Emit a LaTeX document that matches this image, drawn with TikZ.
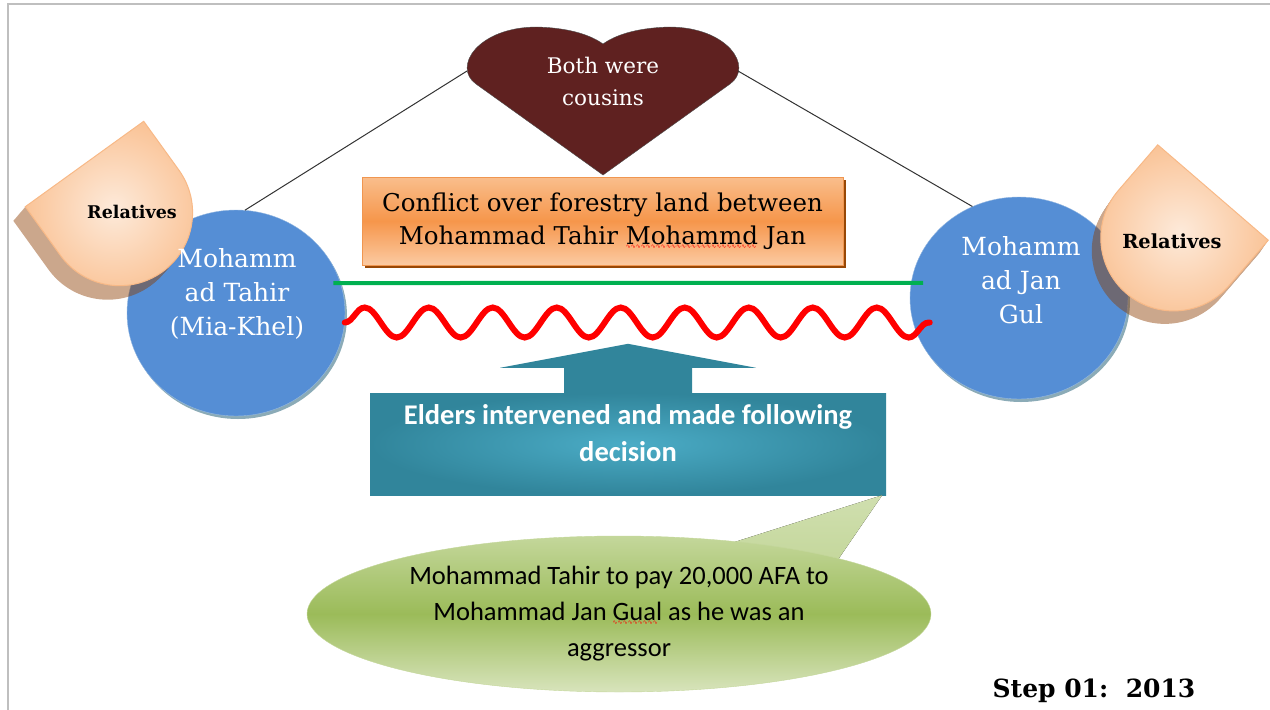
\documentclass[tikz,border=0pt]{standalone}
\usepackage{fontspec}
\setmainfont{DejaVu Serif}
\newfontfamily\calibri{Carlito}
\newfontfamily\symfont{DejaVu Sans}
\usetikzlibrary{shapes.geometric, arrows.meta, positioning, calc, decorations.pathmorphing, shadows}
\newcommand\spellmark[1]{\setbox0=\hbox{#1}\rlap{\lower4pt\hbox to \wd0{\color{red}\symfont\fontsize{6}{6}\selectfont\leaders\hbox{∿}\hfill}}#1}
\definecolor{framegray}{RGB}{191,191,191}
\definecolor{heartbrown}{RGB}{95,33,32}
\definecolor{personblue}{RGB}{85,142,213}
\definecolor{personrim}{RGB}{150,185,225}
\definecolor{personshade}{RGB}{110,150,165}
\definecolor{kinlight}{RGB}{253,234,218}
\definecolor{kinouter}{RGB}{250,196,152}
\definecolor{kinrim}{RGB}{248,185,135}
\definecolor{kindark}{RGB}{140,60,0}
\definecolor{feudtop}{RGB}{249,190,140}
\definecolor{feudmid}{RGB}{246,150,75}
\definecolor{feudbot}{RGB}{251,202,162}
\definecolor{feudrim}{RGB}{240,150,80}
\definecolor{feudshadow}{RGB}{152,72,6}
\definecolor{peacegreen}{RGB}{0,176,80}
\definecolor{strifered}{RGB}{255,0,0}
\definecolor{eldersinner}{RGB}{75,172,198}
\definecolor{eldersouter}{RGB}{49,133,155}
\definecolor{rulingtop}{RGB}{196,215,155}
\definecolor{rulingmid}{RGB}{155,187,89}
\definecolor{rulingbot}{RGB}{216,228,188}
\tikzstyle{person}=[ellipse, draw=personrim, thin, fill=personblue,
    minimum width=218pt, minimum height=206pt,
    drop shadow={shadow xshift=2pt, shadow yshift=-3pt, fill=personshade, opacity=.8}]
\tikzstyle{personname}=[text=white, align=center, font=\fontsize{25}{34}\selectfont]
\tikzstyle{kinname}=[text=black, font=\bfseries\fontsize{17.5}{20}\selectfont]
\tikzstyle{kinface}=[draw=kinrim, line width=1pt, inner color=kinlight, outer color=kinouter]
\tikzstyle{kinside}=[fill=kindark]
\tikzstyle{feud}=[rectangle, draw=feudrim, thin, minimum width=481pt, minimum height=88pt,
    top color=feudtop, bottom color=feudbot, middle color=feudmid,
    align=center, font=\fontsize{24.5}{33}\selectfont,
    drop shadow={shadow xshift=3pt, shadow yshift=-3pt, fill=feudshadow, opacity=1}]
\tikzstyle{elders}=[rectangle, minimum width=516pt, minimum height=102pt,
    inner color=eldersinner, outer color=eldersouter]
\tikzstyle{ruling}=[ellipse, draw=rulingtop, thin, minimum width=624pt, minimum height=156pt,
    top color=rulingtop, bottom color=rulingbot, middle color=rulingmid,
    align=center, font=\calibri\fontsize{26.5}{36}\selectfont]

\begin{document}
\begin{tikzpicture}
      [x=1pt, y=-1pt,
      tie/.style={draw=black!80, line width=1pt},
      peace/.style={draw=peacegreen, line width=4pt},
      strife/.style={draw=strifered, line width=6pt, line cap=round, decorate,
      decoration={snake, amplitude=15pt, segment length=64pt}}]

      \useasboundingbox (0,0) rectangle (1270,710);
      \draw[framegray, line width=2pt] (8,710) |- (1270,4);

      \filldraw[fill=heartbrown, draw=black!70, thin] (603,175) -- (476,84)
        .. controls (452,67) and (478,27) .. (537,27)
        .. controls (572,28) and (592,36) .. (603,44)
        .. controls (614,36) and (634,28) .. (669,27)
        .. controls (728,27) and (754,67) .. (730,84) -- cycle;
      \node[text=white, align=center, font=\fontsize{21.5}{32}\selectfont] (cousins) at (603,81) {Both were\\cousins};
      \coordinate (cousinsL) at (467,71);
      \coordinate (cousinsR) at (738,71);

      \node[person] (tahir) at (236,313) {};
      \node[person, minimum height=202pt] (jangul) at (1019,298) {};

      \begin{scope}[transparency group, opacity=.45]
        \foreach \k in {1,...,12}
          \fill[kinside, shift={(84.5-\k,164+1.17*\k)}, rotate=-54.2]
            (0,-73) -- (60,-73) arc[start angle=-90, end angle=90, radius=73] -- (0,73) -- cycle;
        \foreach \k in {1,...,12}
          \fill[kinside, shift={(1213-0.75*\k,192.5+1.08*\k)}, rotate=-130.8]
            (0,-73) -- (60,-73) arc[start angle=-90, end angle=90, radius=73] -- (0,73) -- cycle;
      \end{scope}
      \path[kinface, shift={(84.5,164)}, rotate=-54.2]
        (0,-73) -- (60,-73) arc[start angle=-90, end angle=90, radius=73] -- (0,73) -- cycle;
      \path[kinface, shift={(1213,192.5)}, rotate=-130.8]
        (0,-73) -- (60,-73) arc[start angle=-90, end angle=90, radius=73] -- (0,73) -- cycle;
      \node[kinname] (kintahir) at (132,212) {Relatives};
      \node[kinname, font=\bfseries\fontsize{19.4}{22}\selectfont] (kingul) at (1172,241) {Relatives};

      \node[personname] (tahirname) at (237,294) {Mohamm\\ad Tahir\\(Mia-Khel)};
      \node[personname] (jangulname) at (1021,280) {Mohamm\\ad Jan\\Gul};

      \node[feud] (landfeud) at (602.5,221) {Conflict over forestry land between\\Mohammad Tahir \spellmark{Mohammd} Jan};

      \draw[tie] (cousinsL) -- (tahir.85);
      \draw[tie] (cousinsR) -- (jangul.117);
      \draw[peace, shorten <=-7pt, shorten >=-12pt] (tahir.16) -- (jangul.172);
      \coordinate (strifeend) at ($(tahir.-5)+(585,0)$);
      \draw[strife] (tahir.-5) -- (strifeend);

      \node[elders] (elders) at (628,444) {};
      \fill[eldersouter] ($(elders.north)+(-64,0)$) -- ++(0,-25) -- ++(-64,0)
        -- ($(elders.north)+(0,-49)$) -- ($(elders.north)+(128,-25)$) -- ++(-64,0) -- ++(0,25) -- cycle;
      \node[text=white, align=center, font=\calibri\bfseries\fontsize{28.5}{37}\selectfont] (elderstext) at (628,433.5)
        {Elders intervened and made following\\decision};

      \fill[top color=rulingtop!80!white, bottom color=rulingtop] (722,546) -- ($(elders.south east)+(-4,0)$) -- (835,564) -- cycle;
      \node[ruling] (ruling) at (619,614) {Mohammad Tahir to pay 20,000 AFA to\\Mohammad Jan \spellmark{Gual} as he was an\\aggressor};

      \node[anchor=base, font=\bfseries\fontsize{25}{30}\selectfont] (step) at (1094,697) {Step 01:\ \ 2013};

\end{tikzpicture}
\end{document}
